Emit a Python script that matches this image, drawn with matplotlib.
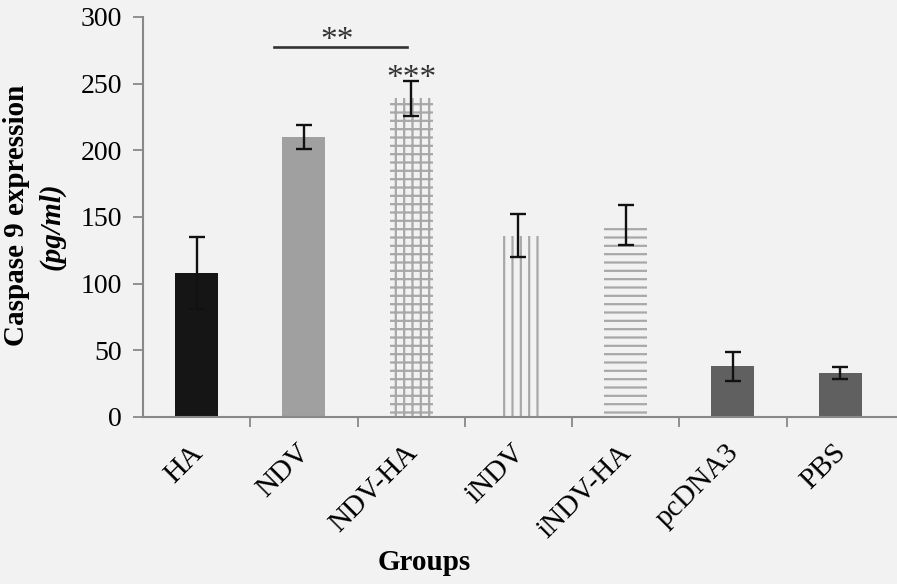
import matplotlib
matplotlib.use("Agg")
import matplotlib.pyplot as plt
import matplotlib.transforms as mtransforms
import numpy as np

groups = ["HA", "NDV", "NDV-HA", "iNDV", "iNDV-HA", "pcDNA3", "PBS"]
values = [108, 210, 239, 136, 144, 38, 33]
errors = [27, 9, 13, 16, 15, 11, 4.5]
yticks = [0, 50, 100, 150, 200, 250, 300]

bg = "#f2f2f2"
faces = ["#151515", "#a0a0a0", bg, bg, bg, "#606060", "#606060"]
edges = ["#151515", "#a0a0a0", "#a8a8a8", "#a8a8a8", "#a8a8a8", "#606060", "#606060"]
hatches = [None, None, "++", "||", "--", None, None]

plt.rcParams["font.family"] = ["Liberation Serif", "DejaVu Serif"]
plt.rcParams["hatch.linewidth"] = 1.6

fig = plt.figure(figsize=(8.97, 5.84), dpi=100, facecolor=bg)
ax = fig.add_axes([143/897, 167/584, (897-143)/897, 400/584])
ax.set_facecolor(bg)

x = np.arange(len(groups))
for i in range(len(groups)):
    ax.bar(x[i], values[i], width=0.4, color=faces[i], edgecolor=edges[i],
           linewidth=0, hatch=hatches[i], zorder=2)
ax.errorbar(x, values, yerr=errors, fmt="none", ecolor="#111111",
            elinewidth=1.7, capsize=6, capthick=1.7, zorder=3)

ax.set_xlim(-0.5, 6.53)
ax.set_ylim(0, 300)
ax.set_yticks(yticks)
ax.set_yticklabels([str(v) for v in yticks], fontsize=20)
ax.set_xticks(x)
ax.set_xticklabels(groups, rotation=45, ha="right", va="center",
                   rotation_mode="anchor", fontsize=21)
ax.tick_params(axis="x", length=0, pad=23)
offset = mtransforms.ScaledTranslation(2/100, 0, fig.dpi_scale_trans)
for lab in ax.get_xticklabels():
    lab.set_transform(lab.get_transform() + offset)
ax.set_xticks(np.arange(0.5, 6.0, 1.0), minor=True)
ax.tick_params(axis="x", which="minor", length=7, color="#888888", width=1.3)
ax.tick_params(axis="y", length=7, color="#888888", width=1.3, pad=8)

for s in ["top", "right"]:
    ax.spines[s].set_visible(False)
for s in ["left", "bottom"]:
    ax.spines[s].set_color("#888888")
    ax.spines[s].set_linewidth(1.5)

# significance annotations
ax.plot([0.72, 1.96], [277.5, 277.5], color="#333333", linewidth=1.9,
        clip_on=False, zorder=4)
ax.text(1.31, 282, "**", ha="center", va="center", fontsize=24, color="#333333")
ax.text(2.0, 254, "***", ha="center", va="center", fontsize=24, color="#333333")

fig.text(424/897, 1 - 563/584, "Groups", ha="center", va="center",
         fontsize=21, fontweight="bold")
fig.text(17/897, 1 - 215/584, "Caspase 9 expression", rotation=90,
         ha="center", va="center", fontsize=21, fontweight="bold")
fig.text(52/897, 1 - 226/584, "(pg/ml)", rotation=90, ha="center",
         va="center", fontsize=21, fontweight="bold", fontstyle="italic")

fig.savefig("out.png", dpi=100, facecolor=bg)
